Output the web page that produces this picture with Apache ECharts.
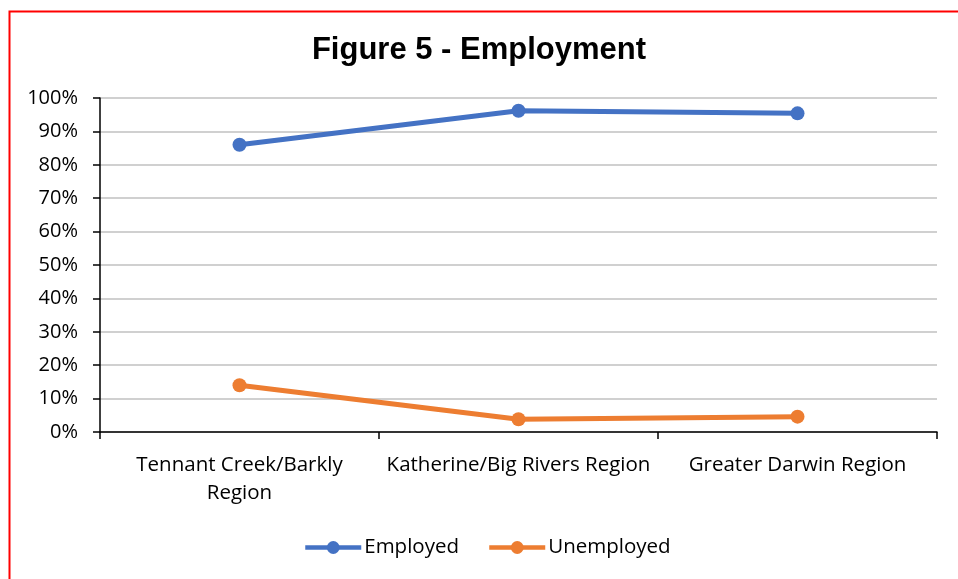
<!DOCTYPE html>
<html>
<head>
<meta charset="utf-8">
<script src="https://cdn.jsdelivr.net/npm/echarts@6/dist/echarts.min.js"></script>
<style>
  html, body { margin: 0; padding: 0; background: #fff; }
  #chart { width: 958px; height: 579px; }
</style>
</head>
<body>
<div id="chart"></div>
<script>
// Regions and employment shares (percent)
const categories = ['Tennant Creek/Barkly\nRegion', 'Katherine/Big Rivers Region', 'Greater Darwin Region'];
const employed = [86.0, 96.2, 95.4];
const unemployed = [14.0, 3.8, 4.6];
const seriesNames = ['Employed', 'Unemployed'];
const titleText = 'Figure 5 - Employment';

const font = '"Open Sans", Lato, sans-serif';
const chart = echarts.init(document.getElementById('chart'));

chart.setOption({
  animation: false,
  backgroundColor: '#ffffff',
  graphic: [{
    type: 'rect',
    left: 7, top: 9,
    shape: { width: 1000, height: 700 },
    style: { fill: 'none', stroke: '#ff0000', lineWidth: 2 },
    silent: true
  }],
  title: {
    text: titleText,
    left: 'center',
    top: 30,
    textStyle: { fontFamily: '"Liberation Sans", Arial, sans-serif', fontWeight: 'bold', fontSize: 31, color: '#000' }
  },
  legend: {
    bottom: 16,
    left: 298,
    itemWidth: 56,
    itemHeight: 16,
    itemGap: 28,
    itemStyle: { borderWidth: 0 },
    lineStyle: { width: 4.5 },
    textStyle: { fontFamily: font, fontSize: 20.5, color: '#000', padding: [0, 0, 0, -2] },
    data: seriesNames
  },
  grid: { left: 100, right: 21, top: 98, bottom: 147, containLabel: false },
  xAxis: {
    type: 'category',
    data: categories,
    boundaryGap: true,
    axisLine: { lineStyle: { color: '#000', width: 1.5 } },
    axisTick: { show: true, length: 7, lineStyle: { color: '#000', width: 1.5 } },
    axisLabel: { interval: 0, fontFamily: font, fontSize: 20.5, color: '#000', margin: 19, lineHeight: 28 },
    splitLine: { show: false }
  },
  yAxis: {
    type: 'value',
    min: 0, max: 100, interval: 10,
    axisLine: { show: true, lineStyle: { color: '#000', width: 1.5 } },
    axisTick: { show: true, length: 7, lineStyle: { color: '#000', width: 1.5 } },
    axisLabel: { fontFamily: font, fontSize: 20, color: '#000', margin: 22, formatter: '{value}%' },
    splitLine: { lineStyle: { color: '#c0c0c0', width: 1.5 } }
  },
  series: [
    {
      name: seriesNames[0], type: 'line', data: employed,
      symbol: 'circle', symbolSize: 14,
      lineStyle: { color: '#4472c4', width: 5 },
      itemStyle: { color: '#4472c4' }
    },
    {
      name: seriesNames[1], type: 'line', data: unemployed,
      symbol: 'circle', symbolSize: 14,
      lineStyle: { color: '#ed7d31', width: 5 },
      itemStyle: { color: '#ed7d31' }
    }
  ]
});
</script>
</body>
</html>
